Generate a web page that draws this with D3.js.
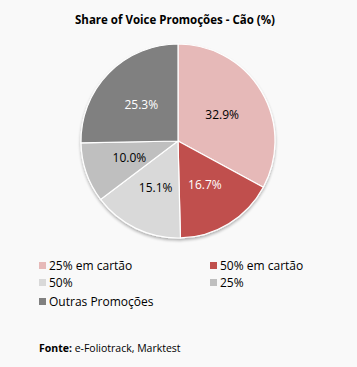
<!DOCTYPE html>
<html><head><meta charset="utf-8">
<script src="https://cdn.jsdelivr.net/npm/d3@7"></script>
<style>html,body{margin:0;padding:0;background:#f9f9f9;}svg{display:block;}</style>
</head><body>
<script>
const categories = ["25% em cartão", "50% em cartão", "50%", "25%", "Outras Promoções"];
const values = [32.9, 16.7, 15.1, 10.0, 25.3];
const colors = ["#e6b9b8", "#c0504d", "#d9d9d9", "#bfbfbf", "#808080"];
const labelColors = ["#000", "#fff", "#000", "#000", "#fff"];
const title = "Share of Voice Promoções - Cão (%)";

const W = 357, H = 367;
const font = "'Segoe UI', 'Open Sans', 'DejaVu Sans', sans-serif";
const svg = d3.select("body").append("svg").attr("width", W).attr("height", H)
  .style("background", "#f9f9f9");

svg.append("text").attr("x", 175).attr("y", 24).attr("text-anchor", "middle")
  .attr("font-family", font).attr("font-weight", "bold").attr("font-size", 11.5)
  .attr("fill", "#000").text(title);

const cx = 178, cy = 141, R = 97;
const defs = svg.append("defs");
const f = defs.append("filter").attr("id", "sh").attr("x", "-20%").attr("y", "-20%").attr("width", "140%").attr("height", "140%");
f.append("feGaussianBlur").attr("in", "SourceAlpha").attr("stdDeviation", 1.5);
f.append("feOffset").attr("dx", 0).attr("dy", 2).attr("result", "b");
f.append("feComponentTransfer").append("feFuncA").attr("type", "linear").attr("slope", 0.3);
const m = f.append("feMerge"); m.append("feMergeNode"); m.append("feMergeNode").attr("in", "SourceGraphic");

const pie = d3.pie().sort(null).value(d => d)(values);
const arc = d3.arc().innerRadius(0).outerRadius(R);
const labelArc = d3.arc().innerRadius(R * 0.53).outerRadius(R * 0.53);
const g = svg.append("g").attr("transform", `translate(${cx},${cy})`);
g.append("g").attr("filter", "url(#sh)").selectAll("path").data(pie).join("path")
  .attr("d", arc).attr("fill", (d, i) => colors[i]).attr("stroke", "#fff").attr("stroke-width", 1.2);
g.selectAll("text").data(pie).join("text")
  .attr("transform", d => `translate(${labelArc.centroid(d)})`)
  .attr("text-anchor", "middle").attr("dy", "0.35em")
  .attr("font-family", font).attr("font-size", 12)
  .attr("fill", (d, i) => labelColors[i])
  .text(d => d.value.toFixed(1) + "%");

const legendPos = [[39, 266], [210, 266], [39, 283], [210, 283], [39, 302]];
const lg = svg.append("g");
categories.forEach((c, i) => {
  const [x, y] = legendPos[i];
  lg.append("rect").attr("x", x).attr("y", y - 4).attr("width", 7).attr("height", 7).attr("fill", colors[i]);
  lg.append("text").attr("x", x + 10).attr("y", y).attr("dy", "0.35em")
    .attr("font-family", font).attr("font-size", 12).attr("fill", "#000").text(c);
});

const src = svg.append("text").attr("x", 39).attr("y", 352)
  .attr("font-family", font).attr("font-size", 10.5).attr("fill", "#000");
src.append("tspan").attr("font-weight", "bold").text("Fonte:");
src.append("tspan").text(" e-Foliotrack, Marktest");
</script>
</body></html>
